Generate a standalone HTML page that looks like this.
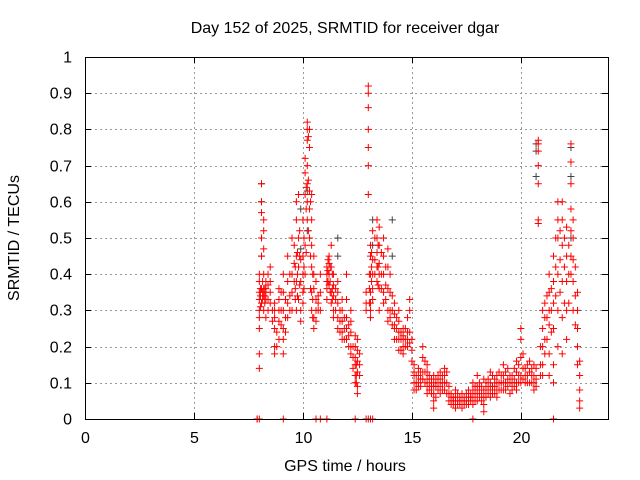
<!DOCTYPE html>
<html><head><meta charset="utf-8"><style>
html,body{margin:0;padding:0;background:#fff;}
svg{display:block;font-family:"Liberation Sans",sans-serif;font-size:16px;}
</style></head><body>
<svg id="chart" width="640" height="480" xmlns="http://www.w3.org/2000/svg">
<text x="345" y="33" text-anchor="middle">Day 152 of 2025, SRMTID for receiver dgar</text>
<text x="345" y="471" text-anchor="middle">GPS time / hours</text>
<text x="19" y="238" text-anchor="middle" transform="rotate(-90 19 238)">SRMTID / TECUs</text>
<g id="grid"></g>
<g id="axes"></g>
<g id="marks"></g>
<rect x="85.5" y="57.5" width="523" height="362" fill="none" stroke="#000" stroke-width="1"/>
</svg>
<script>
const xTicks=[0,5,10,15,20];
const yTicks=[0,0.1,0.2,0.3,0.4,0.5,0.6,0.7,0.8,0.9,1];
const yTickLabels=["0","0.1","0.2","0.3","0.4","0.5","0.6","0.7","0.8","0.9","1"];
const redTimes=[7.9,8.0,8.1,8.2,8.3,8.4,8.5,8.7,8.9,9.1,9.3,9.5,9.6,9.7,9.8,9.9,10.0,10.1,10.2,10.3,10.4,10.5,10.6,10.8,11.1,11.2,11.3,11.4,11.6,11.8,12.0,12.2,12.4,12.5,12.6,12.9,13.0,13.1,13.2,13.4,13.5,13.7,13.9,14.0,14.2,14.4,14.6,14.8,14.9,15.1,15.3,15.5,15.7,16.0,16.3,16.5,16.8,17.0,17.3,17.6,17.8,18.0,18.3,18.6,18.9,19.2,19.5,19.8,20.0,20.2,20.4,20.6,20.8,21.0,21.1,21.3,21.5,21.7,21.9,22.1,22.3,22.4,22.6,22.7];
const redValues=[[0,0],[.40,.38,.33,.30,.18,.14,.25,.35,.28,0],[.60,.65,.57,.50,.45,.36,.32],[.55,.52,.47,.40,.36,.34,.30],[.38,.36,.35,.33,.28],[.40,.37,.33,.30],[.35,.32,.38,.42],[.30,.25,.20,.18,.28,.32],[.22,.27,.30,.36,.33],[.40,.35,.30,.25,.22,.18,0],[.45,.38,.32,.28],[.50,.40,.35,.30],[.48,.43,.38],[.60,.55,.45,.38,.30],[.62,.50,.42,.33],[.44,.38,.30,.27],[.55,.45,.40,.35,.32],[.72,.68,.62,.48,.40],[.82,.80,.77,.70,.65,.60,.55],[.80,.75,.63,.58,.50],[.62,.55,.48,.42,.35,.30],[.45,.40,.36,.28,.25],[.38,.33,.30,.27,0],[.30,.35,.40,0],[.42,.40,.38,.36,.33,0],[.45,.43,.40,.37],[.48,.42,.35,.32],[.40,.37,.34,.30,.28],[.38,.35,.32,.28,.25],[.33,.30,.27,.24,.22],[.40,.33,.28,.25,.22],[.30,.27,.24,.20,.18],[.23,.20,.17,.15,.12,.10,0],[.22,.19,.16,.13,.09,.07],[.18,.15,.12],[.30,.32,.35,0],[.62,.70,.75,.80,.92,.90,.86,0],[.48,.45,.40,.35,.32,.30,.28,0],[.52,.44,.40,.36,.33,0],[.55,.50,.46,.42,.38],[.53,.48,.43,.40,.36,.30],[.50,.45,.40,.35,.32],[.47,.42,.36,.30,.27],[.40,.35,.30,.28],[.32,.29,.26,.25,.22],[.30,.27,.24,.22,.19],[.25,.23,.22,.20,.18],[.28,.24,.22,.20],[.33,.30,.24,.21],[.15,.13,.12,.10,.08],[.14,.12,.10,.09],[.20,.17,.13,.11],[.15,.13,.11,.09,.07],[.12,.10,.09,.07,.05,.03],[.13,.11,.09,.07],[.14,.12,.10,.08],[.07,.06,.05,.04],[.08,.06,.05,.04,.03],[.07,.05,.04,.03],[.08,.06,.05,.04],[.10,.08,.06,.04,0],[.12,.09,.07,.05],[.11,.08,.06,.04,.02],[.13,.10,.08,.06],[.12,.10,.08,.06],[.15,.12,.10,.08],[.12,.10,.07],[.16,.13,.10,.08],[.25,.22,.17,.12,.10],[.14,.12,.10],[.16,.13,.10],[.15,.12,.10,.08],[.77,.76,.74,.70,.65,.55,.54],[.30,.25,.20,.15,.12],[.32,.28,.22,.18],[.40,.35,.30,.26,.18,.12],[.45,.38,.32,.25,.15,.10,0],[.55,.60,.50,.40,.30,.20],[.60,.55,.48,.38,.28,.18],[.53,.45,.38,.30,.22],[.76,.71,.65,.58,.52,.45,.40],[.55,.50,.44,.38,.30],[.35,.30,.25,.20,.15],[.16,.12,.08,.05,.03]];
const redTimes2=[8.05,8.15,8.25,8.6,8.8,9.0,9.2,9.4,9.65,9.75,9.85,10.05,10.15,10.25,10.35,10.45,10.7,11.15,11.25,11.35,11.5,11.7,11.9,12.1,12.3,12.45,13.05,13.15,13.3,13.45,13.6,13.8,14.1,14.3,14.5,14.7,15.0,15.2,15.4,15.6,15.8,15.9,16.1,16.2,16.4,16.6,16.7,16.9,17.1,17.2,17.4,17.5,17.7,17.9,18.1,18.2,18.4,18.5,18.7,18.8,19.0,19.1,19.3,19.4,19.6,19.7,19.9,20.1,20.3,20.5,20.7,20.9,21.2,21.4,21.6,21.8,22.0,22.2,22.5];
const redValues2=[[.36,.34,.31],[.38,.35,.33],[.36,.34,.32],[.30,.27],[.24,.20],[.35,.30,.26],[.33,.28,.24],[.40,.34,.30],[.42,.36,.33],[.46,.40,.34],[.52,.45,.37],[.50,.42,.36],[.64,.58,.46],[.78,.66,.52],[.60,.45,.36],[.40,.33,.28],[.34,.30,.32],[.44,.41,.38],[.42,.38,.35],[.40,.36,.33],[.36,.33,.30],[.30,.27,.24],[.28,.25,.22],[.26,.23,.20],[.20,.17,.14],[.15,.12,.10],[.40,.36,.32],[.46,.42,.38],[.50,.44,.40],[.48,.42,.37],[.46,.40,.36],[.42,.37,.33],[.34,.30,.26],[.28,.25,.22],[.24,.22,.19],[.25,.22,.20],[.22,.19,.16],[.12,.10,.08],[.13,.11,.09],[.16,.13,.10],[.12,.10,.08],[.11,.09,.07],[.11,.09,.06],[.12,.10,.08],[.12,.10,.08],[.13,.10,.07],[.09,.07,.05],[.06,.05,.04],[.07,.05,.04],[.06,.05,.04],[.06,.05,.04],[.07,.05,.04],[.07,.06,.05],[.09,.07,.05],[.10,.08,.06],[.09,.07,.05],[.10,.08,.06],[.11,.09,.07],[.12,.09,.07],[.11,.09,.07],[.13,.10,.08],[.12,.10,.08],[.13,.10,.08],[.14,.11,.09],[.12,.10,.08],[.14,.11,.09],[.15,.12,.10],[.18,.14,.11],[.15,.12,.10],[.14,.12,.10],[.14,.11,.09],[.20,.15,.12],[.34,.28,.22],[.36,.30,.24],[.50,.42,.34],[.52,.44,.35],[.50,.42,.32],[.48,.40,.32],[.42,.34,.26]];
const grayTimes=[8.1,9.9,10.2,11.6,13.2,14.1,20.7,22.3];
const grayValues=[[.65,.60,.45],[.58,.47],[.63,.52],[.50,.45],[.55,.48],[.55,.45],[.76,.74,.67],[.75,.67,.50]];

const X0=85,X1=608,Y0=419,Y1=57;
const xs=t=>X0+(t/24)*(X1-X0);
const ys=v=>Y0-v*(Y0-Y1);
const NS="http://www.w3.org/2000/svg";
function mk(tag,attrs,parent){const e=document.createElementNS(NS,tag);for(const k in attrs)e.setAttribute(k,attrs[k]);parent.appendChild(e);return e;}
const grid=document.getElementById('grid'),axes=document.getElementById('axes'),marks=document.getElementById('marks');
yTicks.forEach((v,i)=>{
  const y=Math.round(ys(v))+0.5;
  if(i>0&&i<yTicks.length-1){const g=mk('line',{x1:X0,x2:X1,y1:y,y2:y,stroke:'#999','stroke-dasharray':'2,3'},grid);
  
  }
  const tk=mk('path',{d:`M${X0} ${y}h6M${X1} ${y}h-6`,stroke:'#000'},axes);
  
  
  const t=mk('text',{x:72,y:y+5,'text-anchor':'end'},axes);t.textContent=yTickLabels[i];
  
  
});
xTicks.forEach(v=>{
  const x=Math.round(xs(v))+0.5;
  if(v>0){const g=mk('line',{x1:x,x2:x,y1:Y0,y2:Y1,stroke:'#999','stroke-dasharray':'2,3'},grid);
  
  }
  const tk=mk('path',{d:`M${x} ${Y0}v-6M${x} ${Y1}v6`,stroke:'#000'},axes);
  
  
  const t=mk('text',{x:x,y:443,'text-anchor':'middle'},axes);t.textContent=String(v);
  
  
});
function drawSeries(times,vals,color,name){
  times.forEach((t,i)=>{vals[i].forEach(v=>{
    const x=xs(t),y=ys(v);
    const p=mk('path',{d:`M${x-3.5} ${y}h7M${x} ${y-3.5}v7`,stroke:color,'stroke-width':1,fill:'none'},marks);
    
    
  });});
}
drawSeries(grayTimes,grayValues,'#444','gray-point');
drawSeries(redTimes,redValues,'#ff0000','red-point');
drawSeries(redTimes2,redValues2,'#ff0000','red-point');
</script>
</body></html>
